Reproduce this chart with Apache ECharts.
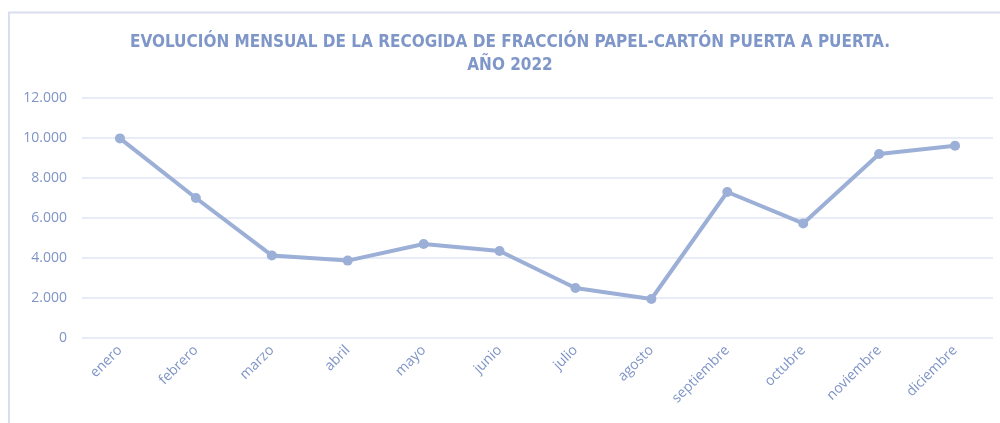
<!DOCTYPE html>
<html>
<head>
<meta charset="utf-8">
<script src="https://cdn.jsdelivr.net/npm/echarts@6/dist/echarts.min.js"></script>
<style>
html,body{margin:0;padding:0;background:#fff;}
#chart{width:1000px;height:423px;}
</style>
</head>
<body>
<div id="chart"></div>
<script>
const titleLines = ['EVOLUCIÓN MENSUAL DE LA RECOGIDA DE FRACCIÓN PAPEL-CARTÓN PUERTA A PUERTA.', 'AÑO 2022'];
const months = ['enero','febrero','marzo','abril','mayo','junio','julio','agosto','septiembre','octubre','noviembre','diciembre'];
const values = [9980, 7000, 4130, 3870, 4700, 4350, 2500, 1950, 7300, 5730, 9200, 9610];
const yTicks = {min: 0, max: 12000, interval: 2000};

const chart = echarts.init(document.getElementById('chart'));
chart.setOption({
  animation: false,
  backgroundColor: '#ffffff',
  graphic: [{
    type: 'polyline',
    shape: {points: [[9, 440], [9, 12.5], [1010, 12.5]]},
    style: {stroke: '#D9DEF0', lineWidth: 2, fill: null},
    silent: true
  }, {
    type: 'text',
    x: 510,
    y: 31,
    silent: true,
    style: {
      text: titleLines.join('\n'),
      align: 'center',
      verticalAlign: 'top',
      fontFamily: '"Liberation Sans Narrow", "DejaVu Sans Condensed", sans-serif',
      fontWeight: 'bold',
      fontSize: 17,
      lineHeight: 23,
      fill: '#7F96C8'
    }
  }],
  grid: {left: 82, right: 7, top: 98, bottom: 85, containLabel: false},
  xAxis: {
    type: 'category',
    data: months,
    boundaryGap: true,
    axisLine: {show: false},
    axisTick: {show: false},
    axisLabel: {
      rotate: 45,
      margin: 10,
      color: '#7F94C6',
      fontFamily: '"Open Sans", sans-serif',
      fontSize: 14,
      interval: 0
    }
  },
  yAxis: {
    type: 'value',
    min: yTicks.min,
    max: yTicks.max,
    interval: yTicks.interval,
    axisLine: {show: false},
    axisTick: {show: false},
    splitLine: {lineStyle: {color: '#E0E6F4', width: 1.5}},
    axisLabel: {
      margin: 15,
      color: '#7F94C6',
      fontFamily: '"Open Sans", sans-serif',
      fontSize: 14,
      formatter: v => v === 0 ? '0' : String(v).replace(/\B(?=(\d{3})+(?!\d))/g, '.')
    }
  },
  series: [{
    type: 'line',
    data: values,
    symbol: 'circle',
    symbolSize: 10,
    lineStyle: {color: '#9CAFD7', width: 4},
    itemStyle: {color: '#9CAFD7'}
  }]
});
</script>
</body>
</html>
